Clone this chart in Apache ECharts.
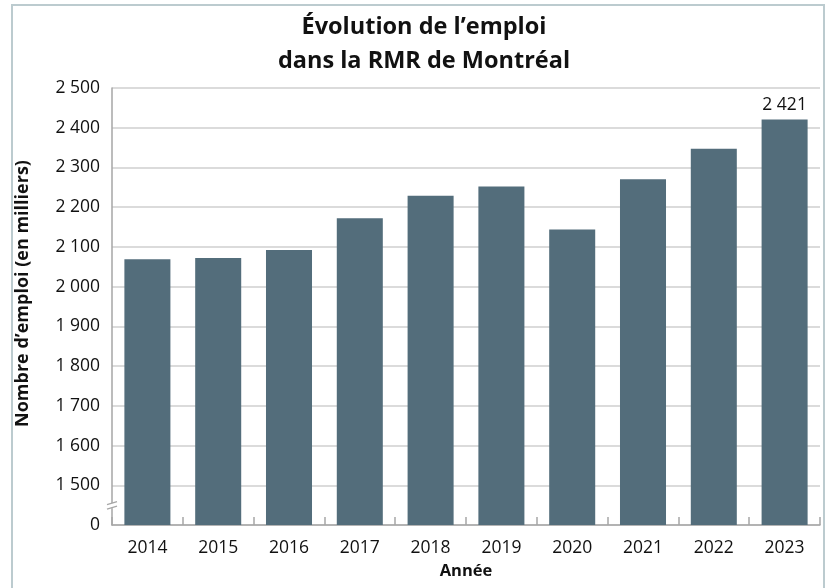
<!DOCTYPE html>
<html>
<head>
<meta charset="utf-8">
<script src="https://cdn.jsdelivr.net/npm/echarts@6/dist/echarts.min.js"></script>
<style>
html,body{margin:0;padding:0;background:#fff;}
#frame{position:absolute;left:11px;top:4px;width:814px;height:600px;border:2px solid #bccbcf;box-sizing:border-box;}
#chart{position:absolute;left:0;top:0;width:830px;height:588px;}
</style>
</head>
<body>
<div id="frame"></div>
<div id="chart"></div>
<script>
const categories = ['2014','2015','2016','2017','2018','2019','2020','2021','2022','2023'];
const emploi = [2069, 2072, 2092, 2172, 2229, 2252, 2144, 2270, 2347, 2421];
const yTicks = [1400, 1500, 1600, 1700, 1800, 1900, 2000, 2100, 2200, 2300, 2400, 2500];
const breakValue = 1400; // shown as "0" (axis break)

const FONT = '"Open Sans", "Noto Sans", sans-serif';
function fmt(v){
  if (v === breakValue) return '0';
  return String(v).replace(/\B(?=(\d{3})+(?!\d))/g, ' ');
}

const chart = echarts.init(document.getElementById('chart'), null, {renderer:'canvas'});
const option = {
  animation: false,
  backgroundColor: 'transparent',
  title: {
    text: 'Évolution de l’emploi\ndans la RMR de Montréal',
    left: 419, top: 5, textAlign: 'center',
    textStyle: {fontFamily: FONT, fontWeight: 'bold', fontSize: 23.5, lineHeight: 34, color: '#111'}
  },
  grid: {left: 112, right: 10, top: 88, bottom: 63, containLabel: false},
  xAxis: {
    type: 'category',
    data: categories,
    name: 'Année',
    nameLocation: 'middle',
    nameGap: 38,
    nameTextStyle: {fontFamily: FONT, fontWeight: 'bold', fontSize: 16.5, color: '#111'},
    axisLine: {lineStyle: {color: '#a6a6a6', width: 1.5}},
    axisTick: {show: true, inside: true, length: 8, lineStyle: {color: '#a6a6a6', width: 1.5}},
    axisLabel: {fontFamily: FONT, fontSize: 17.5, color: '#111', margin: 14}
  },
  yAxis: {
    type: 'value',
    min: 1400, max: 2500, interval: 100,
    name: 'Nombre d’emploi (en milliers)',
    nameLocation: 'middle',
    nameGap: 80,
    nameTextStyle: {fontFamily: FONT, fontWeight: 'bold', fontSize: 18, color: '#111', padding: [0, 0, 0, 26]},
    axisLine: {show: true, lineStyle: {color: '#a6a6a6', width: 1.5}},
    axisTick: {show: false},
    axisLabel: {fontFamily: FONT, fontSize: 17.5, color: '#111', margin: 12, formatter: fmt},
    splitLine: {show: true, lineStyle: {color: '#cfcfcf', width: 1.5}}
  },
  series: [{
    type: 'bar',
    data: emploi.map((v, i) => i === emploi.length - 1
      ? {value: v, label: {show: true, position: 'top', distance: 5, formatter: p => fmt(p.value),
          fontFamily: FONT, fontSize: 17.5, color: '#111'}}
      : v),
    barWidth: '65%',
    itemStyle: {color: '#536d7b'},
    z: 3
  }]
};
chart.setOption(option);

// axis break marks positioned through the axis scale
const p = chart.convertToPixel({xAxisIndex: 0, yAxisIndex: 0}, [0, 1450]);
const ax = 112;
const by = p[1];
chart.setOption({
  graphic: [
    {type: 'rect', shape: {x: ax - 3, y: by - 2, width: 6, height: 5}, style: {fill: '#fff'}, z: 100},
    {type: 'line', shape: {x1: ax - 5, y1: by - 0.5, x2: ax + 5, y2: by - 3.5}, style: {stroke: '#a6a6a6', lineWidth: 1.2}, z: 101},
    {type: 'line', shape: {x1: ax - 5, y1: by + 4, x2: ax + 5, y2: by + 1}, style: {stroke: '#a6a6a6', lineWidth: 1.2}, z: 101}
  ]
});
</script>
</body>
</html>
